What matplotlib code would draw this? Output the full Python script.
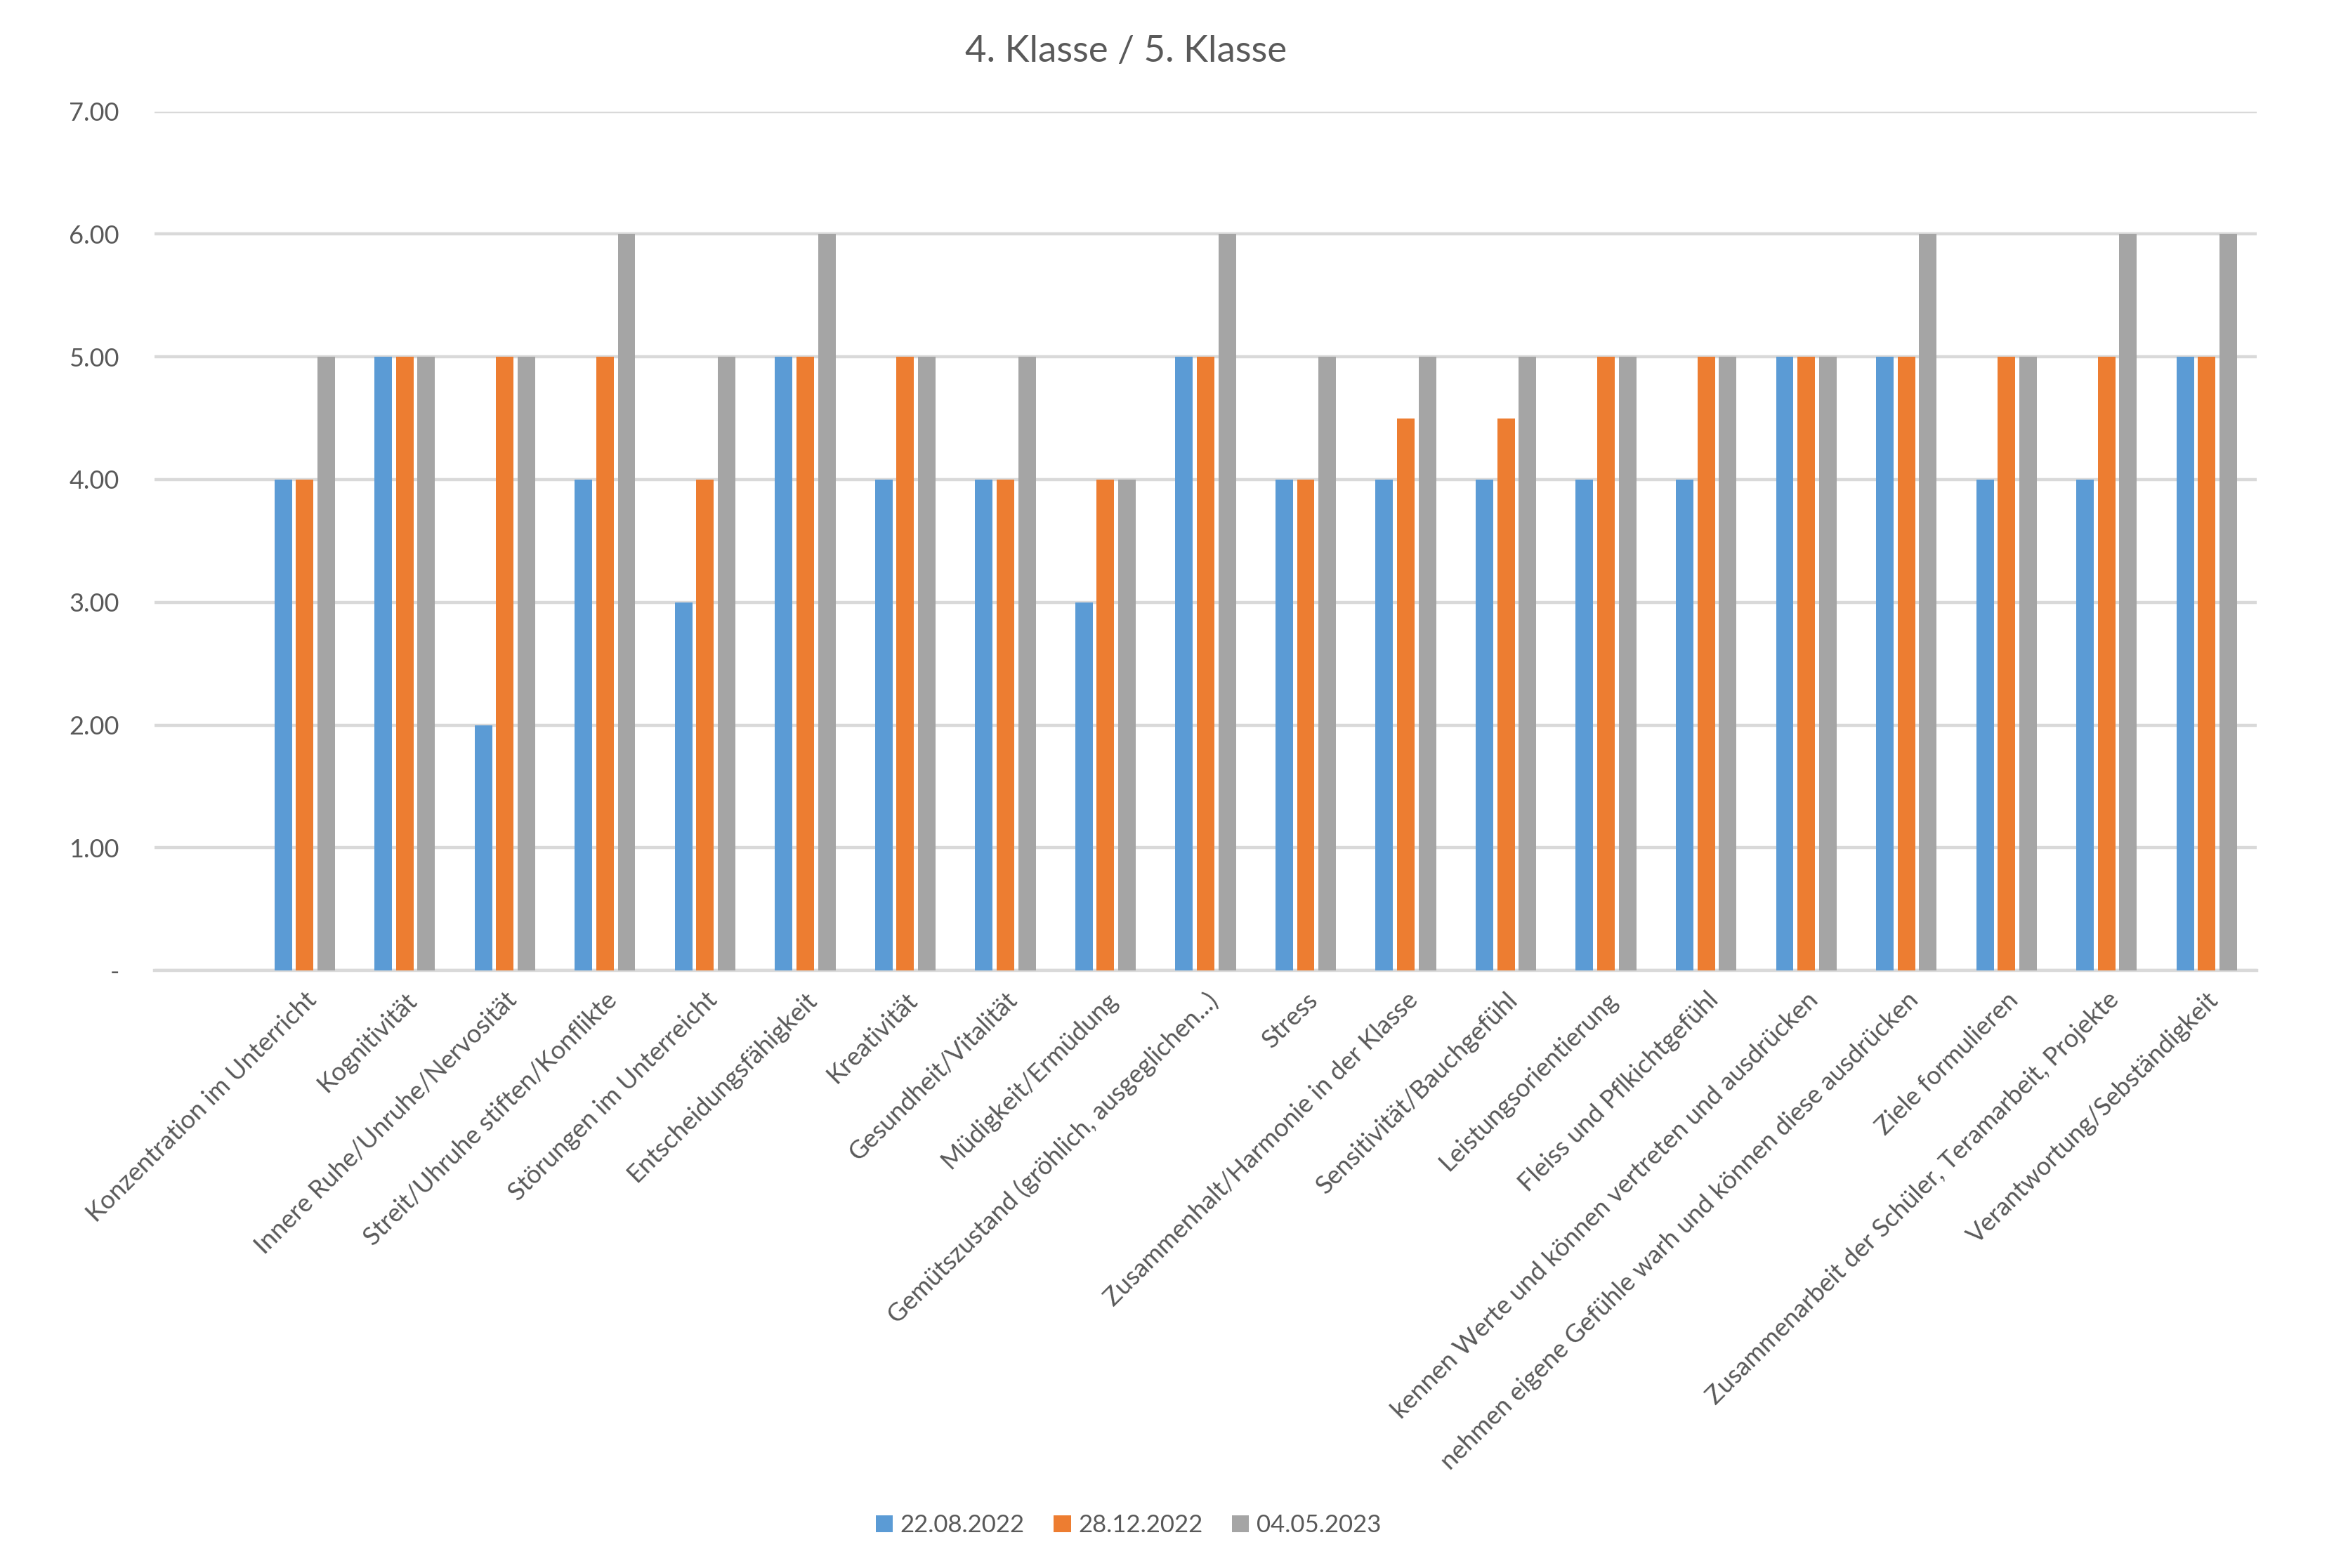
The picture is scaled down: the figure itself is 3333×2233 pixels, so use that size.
import numpy as np
import matplotlib
matplotlib.use('Agg')
import matplotlib.pyplot as plt
from matplotlib.ticker import FixedLocator

plt.rcParams['font.family'] = ['Lato', 'DejaVu Sans']

categories = [
    'Konzentration im Unterricht',
    'Kognitivität',
    'Innere Ruhe/Unruhe/Nervosität',
    'Streit/Uhruhe stiften/Konflikte',
    'Störungen im Unterreicht',
    'Entscheidungsfähigkeit',
    'Kreativität',
    'Gesundheit/Vitalität',
    'Müdigkeit/Ermüdung',
    'Gemütszustand (gröhlich, ausgeglichen...)',
    'Stress',
    'Zusammenhalt/Harmonie in der Klasse',
    'Sensitivität/Bauchgefühl',
    'Leistungsorientierung',
    'Fleiss und Pflkichtgefühl',
    'kennen Werte und können vertreten und ausdrücken',
    'nehmen eigene Gefühle warh und können diese ausdrücken',
    'Ziele formulieren',
    'Zusammenarbeit der Schüler, Teramarbeit, Projekte',
    'Verantwortung/Sebständigkeit',
]

series_names = ['22.08.2022', '28.12.2022', '04.05.2023']

s_aug22 = [4, 5, 2, 4, 3, 5, 4, 4, 3, 5, 4, 4, 4, 4, 4, 5, 5, 4, 4, 5]
s_dec22 = [4, 5, 5, 5, 4, 5, 5, 4, 4, 5, 4, 4.5, 4.5, 5, 5, 5, 5, 5, 5, 5]
s_may23 = [5, 5, 5, 6, 5, 6, 5, 5, 4, 6, 5, 5, 5, 5, 5, 5, 6, 5, 6, 6]

y_ticks = [0, 1, 2, 3, 4, 5, 6, 7]
y_tick_labels = ['-', '1.00', '2.00', '3.00', '4.00', '5.00', '6.00', '7.00']

colors = ['#5B9BD5', '#ED7D31', '#A5A5A5']
text_color = '#595959'

fig = plt.figure(figsize=(16.665, 11.165), dpi=200)
ax = fig.add_axes([0.066, 0.381, 0.898, 0.548])

x = np.arange(len(categories))
width = 0.175
offsets = [-0.215, 0, 0.215]
data = [s_aug22, s_dec22, s_may23]

for i in range(3):
    ax.bar(x + offsets[i], data[i], width, color=colors[i], label=series_names[i], zorder=3)

ax.set_xlim(-1.5, len(categories) - 0.5)
ax.set_ylim(0, 7)

ax.yaxis.set_major_locator(FixedLocator(y_ticks))
ax.set_yticklabels(y_tick_labels)
ax.grid(axis='y', color='#D9D9D9', linewidth=1.6, zorder=0)

ax.set_xticks(x)
ax.set_xticklabels(categories, rotation=45, ha='right', rotation_mode='anchor')

for sp in ['top', 'right', 'left']:
    ax.spines[sp].set_visible(False)
ax.spines['bottom'].set_color('#D9D9D9')
ax.spines['bottom'].set_linewidth(1.6)

ax.tick_params(axis='both', length=0, colors=text_color, labelsize=13)
ax.tick_params(axis='y', pad=18)
ax.tick_params(axis='x', pad=9)

fig.suptitle('4. Klasse / 5. Klasse', x=0.481, y=0.967, fontsize=19, color=text_color, va='center')

fig.legend(loc='lower center', bbox_to_anchor=(0.482, 0.006), ncol=3, frameon=False,
           fontsize=12.5, labelcolor=text_color, handlelength=0.7, handleheight=0.7,
           handletextpad=0.3, columnspacing=1.2)

plt.savefig('out.png', dpi=200)
